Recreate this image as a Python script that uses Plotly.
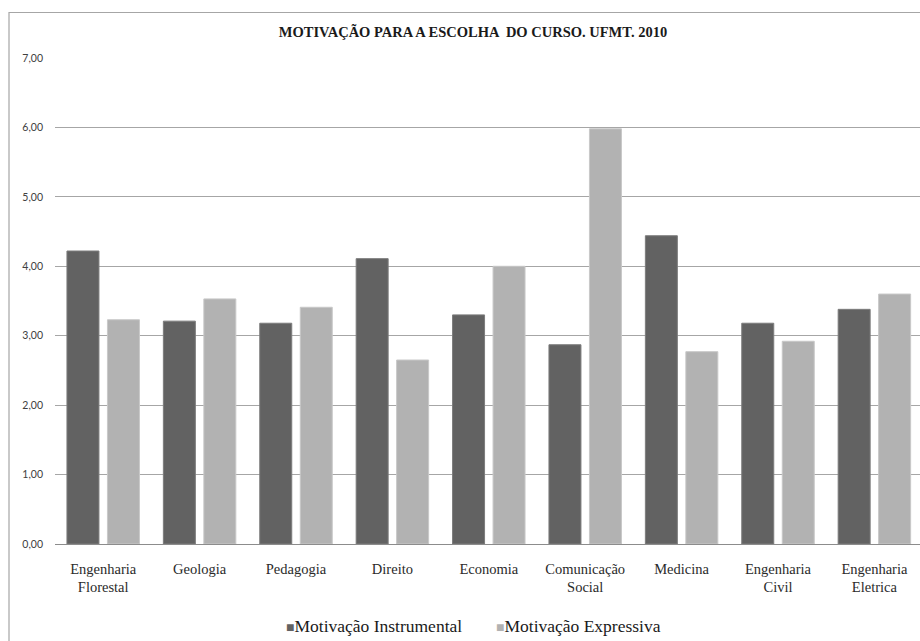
import plotly.graph_objects as go

# Courses and mean motivation scores
cursos = ["Engenharia<br>Florestal", "Geologia", "Pedagogia", "Direito", "Economia",
          "Comunicação<br>Social", "Medicina", "Engenharia<br>Civil", "Engenharia<br>Eletrica"]
instrumental = [4.22, 3.21, 3.18, 4.11, 3.30, 2.87, 4.44, 3.18, 3.38]
expressiva = [3.23, 3.53, 3.41, 2.65, 4.00, 5.98, 2.77, 2.92, 3.60]
series_names = ["Motivação Instrumental", "Motivação Expressiva"]
series_colors = ["#626262", "#b2b2b2"]
y_ticks = [0, 1, 2, 3, 4, 5, 6, 7]

SERIF = "Liberation Serif, Times New Roman, serif"

W, H = 920, 641
ml, mr, mt, mb = 55, 0, 58, 97
pw = W - ml - mr
ph = H - mt - mb

xpos = list(range(len(cursos)))

fig = go.Figure()
fig.add_bar(x=xpos, y=instrumental, name=series_names[0],
            marker=dict(color=series_colors[0], line=dict(color="#7c7c7c", width=1)))
fig.add_bar(x=xpos, y=expressiva, name=series_names[1],
            marker=dict(color=series_colors[1], line=dict(color="#c8c8c8", width=1)))

# outer chart frame (runs past the right and bottom edges)
fig.add_shape(type="rect", xref="paper", yref="paper",
              x0=(9 - ml) / pw, x1=1.2, y0=-0.5, y1=1 + (mt - 12.5) / ph,
              line=dict(color="#a6a6a6", width=1.2), fillcolor="rgba(0,0,0,0)",
              layer="below")

# legend row below the category labels
leg_y = -(626 - (H - mb)) / ph
for name, color, px in zip(series_names, series_colors, [284, 494]):
    fig.add_annotation(
        xref="paper", yref="paper", x=(px - ml) / pw, y=leg_y,
        xanchor="left", yanchor="middle", showarrow=False,
        text=f"<span style='color:{color};font-size:14px'>■</span>{name}",
        font=dict(family=SERIF, size=17.5, color="#1a1a1a"))

fig.update_layout(
    width=W, height=H,
    margin=dict(l=ml, r=mr, t=mt, b=mb, pad=0),
    paper_bgcolor="white", plot_bgcolor="white",
    font=dict(family=SERIF),
    barmode="group", bargap=0.16, bargroupgap=0.21,
    separators=", ",
    showlegend=False,
    title=dict(text="<b>MOTIVAÇÃO PARA A ESCOLHA  DO CURSO. UFMT. 2010</b>",
               font=dict(family=SERIF, size=14.5, color="#1a1a1a"),
               x=473 / W, xanchor="center",
               y=1 - 32 / H, yanchor="middle"),
    xaxis=dict(range=[-0.5, -0.5 + pw / 96.4], tickmode="array", tickvals=xpos,
               ticktext=cursos, showgrid=False, zeroline=False,
               showline=True, linecolor="#8c8c8c", linewidth=1.2, ticks="",
               tickfont=dict(family=SERIF, size=14.5, color="#2a2a2a"),
               ticklabelstandoff=11),
    yaxis=dict(range=[0, 7], tickmode="array", tickvals=y_ticks, tickformat=".2f",
               showgrid=True, gridcolor="#a6a6a6", gridwidth=1.2, zeroline=False,
               showline=False, ticks="",
               tickfont=dict(family="Lato", size=10.5, color="#404040"),
               ticklabelstandoff=11),
)

fig.write_html("out.html")
